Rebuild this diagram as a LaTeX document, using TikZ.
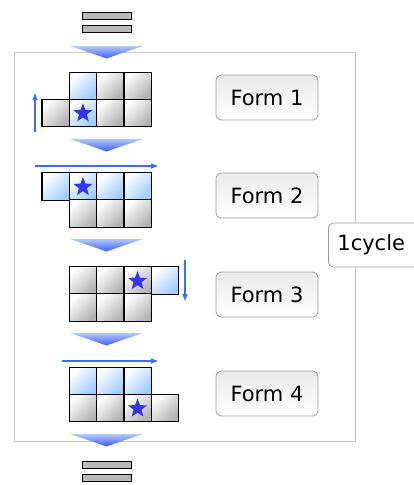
\documentclass[tikz,border=0pt]{standalone}
\usepackage{fontspec}
\setmainfont{DejaVu Sans}
\usetikzlibrary{positioning, arrows.meta, shapes.geometric}

\definecolor{cellgray}{HTML}{B2B2B2}
\definecolor{cellblue}{HTML}{A0CBFF}
\definecolor{starblue}{HTML}{3434F4}
\definecolor{moveblue}{HTML}{3F6CFF}
\definecolor{chevtop}{HTML}{B2C8FF}
\definecolor{chevbot}{HTML}{3F5CFF}
\definecolor{framegray}{HTML}{C8C8C8}
\definecolor{boxgray}{HTML}{999999}

\tikzset{
  graycell/.style={draw, line width=1.2pt, minimum size=27.3pt, inner sep=0pt,
    top color=white, bottom color=cellgray, shading angle=45},
  bluecell/.style={graycell, top color=white, bottom color=cellblue, shading angle=45},
  starmark/.style={star, star points=5, star point ratio=2.4, fill=starblue,
    minimum size=20pt, inner sep=0pt},
  moveto/.style={draw=moveblue, line width=1.3pt, -{Triangle[length=7pt, width=5pt]}},
  chevron/.style={top color=chevtop, bottom color=chevbot},
  bar/.style={draw, line width=1pt, fill=gray!55},
  formbox/.style={draw=boxgray, line width=0.8pt, rounded corners=5pt, top color=gray!16,
    bottom color=white, minimum width=102pt, minimum height=45pt, inner sep=0pt,
    font=\fontsize{21}{25}\selectfont},
  cyclebox/.style={draw=boxgray, line width=0.8pt, fill=white, rounded corners=5pt, anchor=west,
    text width=80pt, align=left, inner xsep=9pt, minimum height=44pt,
    font=\fontsize{21}{25}\selectfont}
}

\begin{document}
\begin{tikzpicture}[x=1pt, y=-1pt]
    \useasboundingbox (0,0) rectangle (414,485);
    \clip (0,0) rectangle (414,485);

    % frame round one cycle
    \draw[framegray, line width=1pt] (14,52) rectangle (355,441);

    % equals bars in and out
    \draw[bar] (82,12) rectangle (131,19);
    \draw[bar] (82,25.5) rectangle (131,32.5);
    \draw[bar] (82,461) rectangle (131,468);
    \draw[bar] (82,474.5) rectangle (131,481.5);

    % chevrons between the forms
    \foreach \y in {46,139,239,333,434}
        \shade[chevron] (70,\y) -- (143,\y) .. controls (128,\y+5) .. (106.5,\y+12.5)
            .. controls (85,\y+5) .. (70,\y) -- cycle;

    % Form 1
    \foreach \n/\x/\y/\s in {1/82.95/85.8/bluecell, 2/110.25/85.8/graycell, 3/137.55/85.8/graycell,
        4/55.65/112.8/graycell, 5/82.95/112.8/bluecell, 6/110.25/112.8/graycell, 7/137.55/112.8/graycell}
        \node[\s] (a\n) at (\x,\y) {};
    \node[starmark] (stara) at ([yshift=-0.5pt]a5) {};
    \coordinate (a-from) at (35,132);
    \coordinate (a-to) at (35,93);
    \draw[moveto] (a-from) -- (a-to);
    \node[formbox] (forma) at (267,97.5) {Form 1};

    % Form 2
    \foreach \n/\x/\y/\s in {1/55.65/186.5/bluecell, 2/82.95/186.5/bluecell, 3/110.25/186.5/bluecell,
        4/137.55/186.5/bluecell, 5/82.95/213.5/graycell, 6/110.25/213.5/graycell, 7/137.55/213.5/graycell}
        \node[\s] (b\n) at (\x,\y) {};
    \node[starmark] (starb) at ([yshift=-0.5pt]b2) {};
    \coordinate (b-from) at (35,166);
    \coordinate (b-to) at (158,166);
    \draw[moveto] (b-from) -- (b-to);
    \node[formbox] (formb) at (267,195.5) {Form 2};

    % Form 3
    \foreach \n/\x/\y/\s in {1/82.95/280.5/graycell, 2/110.25/280.5/graycell, 3/137.55/280.5/graycell,
        4/164.85/280.5/bluecell, 5/82.95/307.5/graycell, 6/110.25/307.5/graycell, 7/137.55/307.5/graycell}
        \node[\s] (c\n) at (\x,\y) {};
    \node[starmark] (starc) at ([yshift=-0.5pt]c3) {};
    \coordinate (c-from) at (185,260);
    \coordinate (c-to) at (185,301);
    \draw[moveto] (c-from) -- (c-to);
    \node[formbox] (formc) at (267,294.5) {Form 3};

    % Form 4
    \foreach \n/\x/\y/\s in {1/82.95/381.3/bluecell, 2/110.25/381.3/bluecell, 3/137.55/381.3/bluecell,
        4/82.95/408/graycell, 5/110.25/408/graycell, 6/137.55/408/graycell, 7/164.85/408/graycell}
        \node[\s] (d\n) at (\x,\y) {};
    \node[starmark] (stard) at ([yshift=-0.5pt]d6) {};
    \coordinate (d-from) at (62,361);
    \coordinate (d-to) at (158,361);
    \draw[moveto] (d-from) -- (d-to);
    \node[formbox] (formd) at (267,393.5) {Form 4};

    % cycle tag on the frame
    \node[cyclebox] (cycle) at (328,245) {1cycle};
\end{tikzpicture}
\end{document}
